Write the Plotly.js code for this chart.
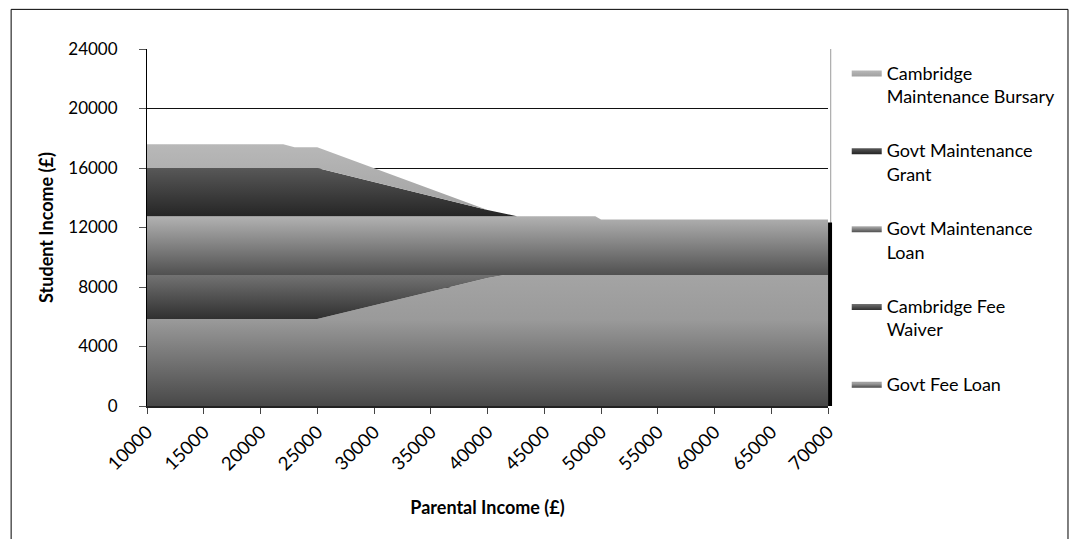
<!DOCTYPE html>
<html>
<head>
<meta charset="utf-8">
<script src="https://cdn.plot.ly/plotly-3.0.1.min.js"></script>
<style>
  html, body { margin: 0; padding: 0; background: #fff; }
  #chart { width: 1075px; height: 539px; }
</style>
</head>
<body>
<div id="chart"></div>
<script>
// Parental income breakpoints (£)
const parentalIncome = [10000, 22000, 23000, 25000, 40000, 41500, 42600, 49500, 50000, 70000];
// Series values (£), bottom of stack first
const govtFeeLoan          = [5850, 5850, 5850, 5850, 8600, 8800, 8800, 8800, 8800, 8800];
const cambridgeFeeWaiver   = [2950, 2950, 2950, 2950,  200,    0,    0,    0,    0,    0];
const govtMaintenanceLoan  = [3960, 3960, 3960, 3960, 3960, 3960, 3960, 3960, 3730, 3730];
const govtMaintenanceGrant = [3240, 3240, 3240, 3240,  420,  200,    0,    0,    0,    0];
const cambridgeBursary     = [1600, 1600, 1400, 1400,    0,    0,    0,    0,    0,    0];

const seriesNames = ['Govt Fee Loan', 'Cambridge Fee<br>Waiver', 'Govt Maintenance<br>Loan',
                     'Govt Maintenance<br>Grant', 'Cambridge<br>Maintenance Bursary'];
const seriesValues = [govtFeeLoan, cambridgeFeeWaiver, govtMaintenanceLoan, govtMaintenanceGrant, cambridgeBursary];
const seriesScales = [
  [[0, '#484848'], [0.66, '#9a9a9a'], [1, '#a4a4a4']],
  [[0, '#303030'], [1, '#727272']],
  [[0, '#505050'], [1, '#b2b2b2']],
  [[0, '#222222'], [1, '#585858']],
  [[0, '#a0a0a0'], [1, '#b8b8b8']]
];

const FONT = 'Lato, "Open Sans", sans-serif';

// cumulative bases / tops to set gradient extents
let base = parentalIncome.map(() => 0);
const traces = seriesValues.map((vals, i) => {
  const top = base.map((b, k) => b + vals[k]);
  const lo = Math.min(...base), hi = Math.max(...top);
  base = top;
  return {
    type: 'scatter',
    mode: 'lines',
    name: seriesNames[i],
    x: parentalIncome,
    y: vals,
    stackgroup: 'one',
    legendgroup: 'g' + i,
    legendrank: seriesValues.length - i,
    line: { width: 0, color: seriesScales[i][1][1] },
    fillcolor: seriesScales[i][Math.floor(seriesScales[i].length / 2)][1],
    fillgradient: { type: 'vertical', colorscale: seriesScales[i], start: lo, stop: hi },
    hoverinfo: 'x+y+name'
  };
});

const lastTotal = govtFeeLoan[govtFeeLoan.length - 1] + govtMaintenanceLoan[govtMaintenanceLoan.length - 1];

const layout = {
  width: 1075, height: 539,
  margin: { l: 147, r: 247, t: 49, b: 133 },
  paper_bgcolor: '#fff', plot_bgcolor: '#fff',
  font: { family: FONT, size: 17, color: '#000' },
  showlegend: true,
  legend: {
    x: 1.0275, xanchor: 'left', y: 0.985, yanchor: 'top',
    traceorder: 'grouped', tracegroupgap: 28,
    valign: 'top',
    font: { family: FONT, size: 18, color: '#000' },
    bgcolor: 'rgba(0,0,0,0)'
  },
  xaxis: {
    type: 'linear', range: [10000, 70000],
    tick0: 10000, dtick: 5000, tickangle: -45, tickformat: 'd',
    ticks: 'outside', ticklen: 6, tickcolor: '#444', tickwidth: 1,
    showgrid: false, zeroline: false,
    showline: true, linecolor: '#222', linewidth: 2,
    tickfont: { family: FONT, size: 18.5, color: '#000' },
    title: { text: '<b>Parental Income (£)</b>', font: { family: FONT, size: 18, color: '#000' }, standoff: 28 }
  },
  yaxis: {
    range: [0, 24000], tick0: 0, dtick: 4000, tickformat: 'd',
    ticks: 'outside', ticklen: 7, tickcolor: '#555', tickwidth: 1,
    showgrid: true, gridcolor: '#111', gridwidth: 1,
    zeroline: false, showline: true, linecolor: '#000', linewidth: 1,
    tickfont: { family: FONT, size: 17, color: '#000' },
    ticklabelstandoff: 18,
    title: { text: '<b>Student Income (£)</b>', font: { family: FONT, size: 18, color: '#000' }, standoff: 9 }
  },
  shapes: [
    // plot-area right border
    { type: 'line', xref: 'paper', yref: 'paper', x0: 1.004, x1: 1.004, y0: 0, y1: 1,
      line: { color: '#9a9a9a', width: 1 } },
    // dark edge at the right end of the stack
    { type: 'line', xref: 'paper', yref: 'y', x0: 1.003, x1: 1.003, y0: 0, y1: lastTotal - 200,
      line: { color: '#000', width: 4 } },
    // chart-area border
    { type: 'rect', xref: 'paper', yref: 'paper', x0: -0.1995, x1: 1.3524, y0: -0.40, y1: 1.111,
      line: { color: '#000', width: 1 }, fillcolor: 'rgba(0,0,0,0)' }
  ]
};

Plotly.newPlot('chart', traces, layout, { displayModeBar: false, staticPlot: true });
</script>
</body>
</html>
